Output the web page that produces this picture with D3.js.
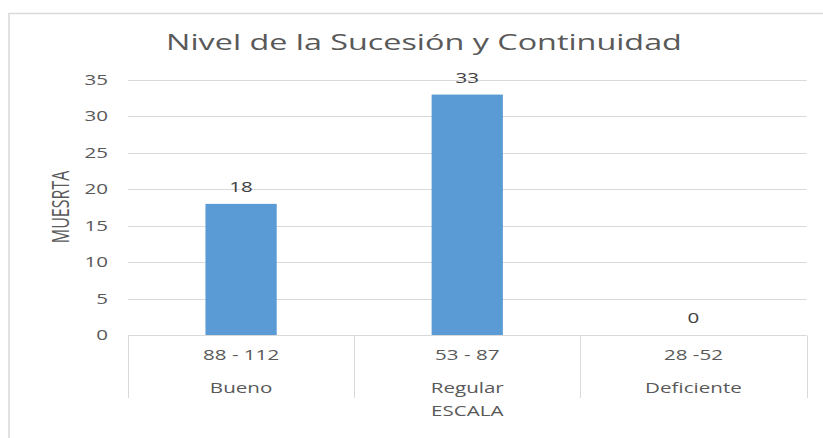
<!DOCTYPE html>
<html>
<head>
<meta charset="utf-8">
<script src="https://cdn.jsdelivr.net/npm/d3@7"></script>
<style>
  body { margin: 0; background: white; }
  text { font-family: "Open Sans", sans-serif; fill: #595959; }
</style>
</head>
<body>
<div id="chart"></div>
<script>
// chart data
const ranges = ["88 - 112", "53 - 87", "28 -52"];
const levels = ["Bueno", "Regular", "Deficiente"];
const counts = [18, 33, 0];
const yTicks = [0, 5, 10, 15, 20, 25, 30, 35];

const width = 823;
const height = 438;
const margin = {top: 80, right: 16, bottom: 103, left: 128};
// the source picture is stretched sideways, so text is widened too
const stretch = 1.47;

const svg = d3.select("#chart")
    .append("svg")
    .attr("width", width)
    .attr("height", height);

// place a text at (px,py) and widen it horizontally
function put(sel, px, py) {
    return sel.attr("transform", (d, i) => {
        const xx = typeof px === "function" ? px(d, i) : px;
        const yy = typeof py === "function" ? py(d, i) : py;
        return `translate(${xx},${yy}) scale(${stretch},1)`;
    });
}

// outer chart border (only top and left visible in the crop)
svg.append("path")
    .attr("d", `M9,${height} V13.5 H${width}`)
    .attr("fill", "none")
    .attr("stroke", "#d9d9d9")
    .attr("stroke-width", 1.5);

const x = d3.scaleBand()
    .domain(d3.range(counts.length))
    .range([margin.left, width - margin.right - 0.5]);

const y = d3.scaleLinear()
    .domain([0, 35])
    .range([height - margin.bottom, margin.top]);

// gridlines
svg.append("g")
    .selectAll("line")
    .data(yTicks.filter(d => d > 0))
    .join("line")
    .attr("x1", x.range()[0])
    .attr("x2", x.range()[1])
    .attr("y1", d => Math.round(y(d)) + 0.5)
    .attr("y2", d => Math.round(y(d)) + 0.5)
    .attr("stroke", "#d9d9d9")
    .attr("stroke-width", 1);

// y tick labels
svg.append("g")
    .selectAll("text")
    .data(yTicks)
    .join("text")
    .call(put, 108, d => y(d))
    .attr("dy", "0.36em")
    .attr("text-anchor", "end")
    .style("font-size", "14px")
    .text(d => d);

// bars
const barW = x.bandwidth() * 0.315;
svg.append("g")
    .selectAll("rect")
    .data(counts)
    .join("rect")
    .attr("x", (d, i) => x(i) + x.bandwidth() / 2 - barW / 2)
    .attr("y", d => y(d))
    .attr("width", barW)
    .attr("height", d => y(0) - y(d))
    .attr("fill", "#5b9bd5");

// value labels
svg.append("g")
    .selectAll("text")
    .data(counts)
    .join("text")
    .call(put, (d, i) => x(i) + x.bandwidth() / 2, d => y(d) - 12)
    .attr("text-anchor", "middle")
    .style("font-size", "14px")
    .style("fill", "#404040")
    .text(d => d);

// category axis: baseline and separators
const base = Math.round(y(0)) + 0.5;
svg.append("line")
    .attr("x1", x.range()[0])
    .attr("x2", x.range()[1])
    .attr("y1", base)
    .attr("y2", base)
    .attr("stroke", "#d9d9d9");

const seps = d3.range(counts.length + 1).map(i => x.range()[0] + i * x.step());
svg.append("g")
    .selectAll("line")
    .data(seps)
    .join("line")
    .attr("x1", d => Math.round(d) + 0.5)
    .attr("x2", d => Math.round(d) + 0.5)
    .attr("y1", base)
    .attr("y2", 398)
    .attr("stroke", "#d9d9d9");

svg.append("g")
    .selectAll("text")
    .data(ranges)
    .join("text")
    .call(put, (d, i) => x(i) + x.bandwidth() / 2, 360)
    .attr("text-anchor", "middle")
    .style("font-size", "14px")
    .text(d => d);

svg.append("g")
    .selectAll("text")
    .data(levels)
    .join("text")
    .call(put, (d, i) => x(i) + x.bandwidth() / 2, 393)
    .attr("text-anchor", "middle")
    .style("font-size", "14px")
    .text(d => d);

// axis titles
svg.append("text")
    .call(put, (x.range()[0] + x.range()[1]) / 2, 416)
    .attr("text-anchor", "middle")
    .style("font-size", "14px")
    .text("ESCALA");

svg.append("text")
    .attr("transform", `translate(69,207) scale(${stretch},1) rotate(-90)`)
    .attr("text-anchor", "middle")
    .style("font-size", "16px")
    .text("MUESRTA");

// chart title
svg.append("text")
    .call(put, 424, 50)
    .attr("text-anchor", "middle")
    .style("font-size", "22px")
    .text("Nivel de la Sucesión y Continuidad");
</script>
</body>
</html>
